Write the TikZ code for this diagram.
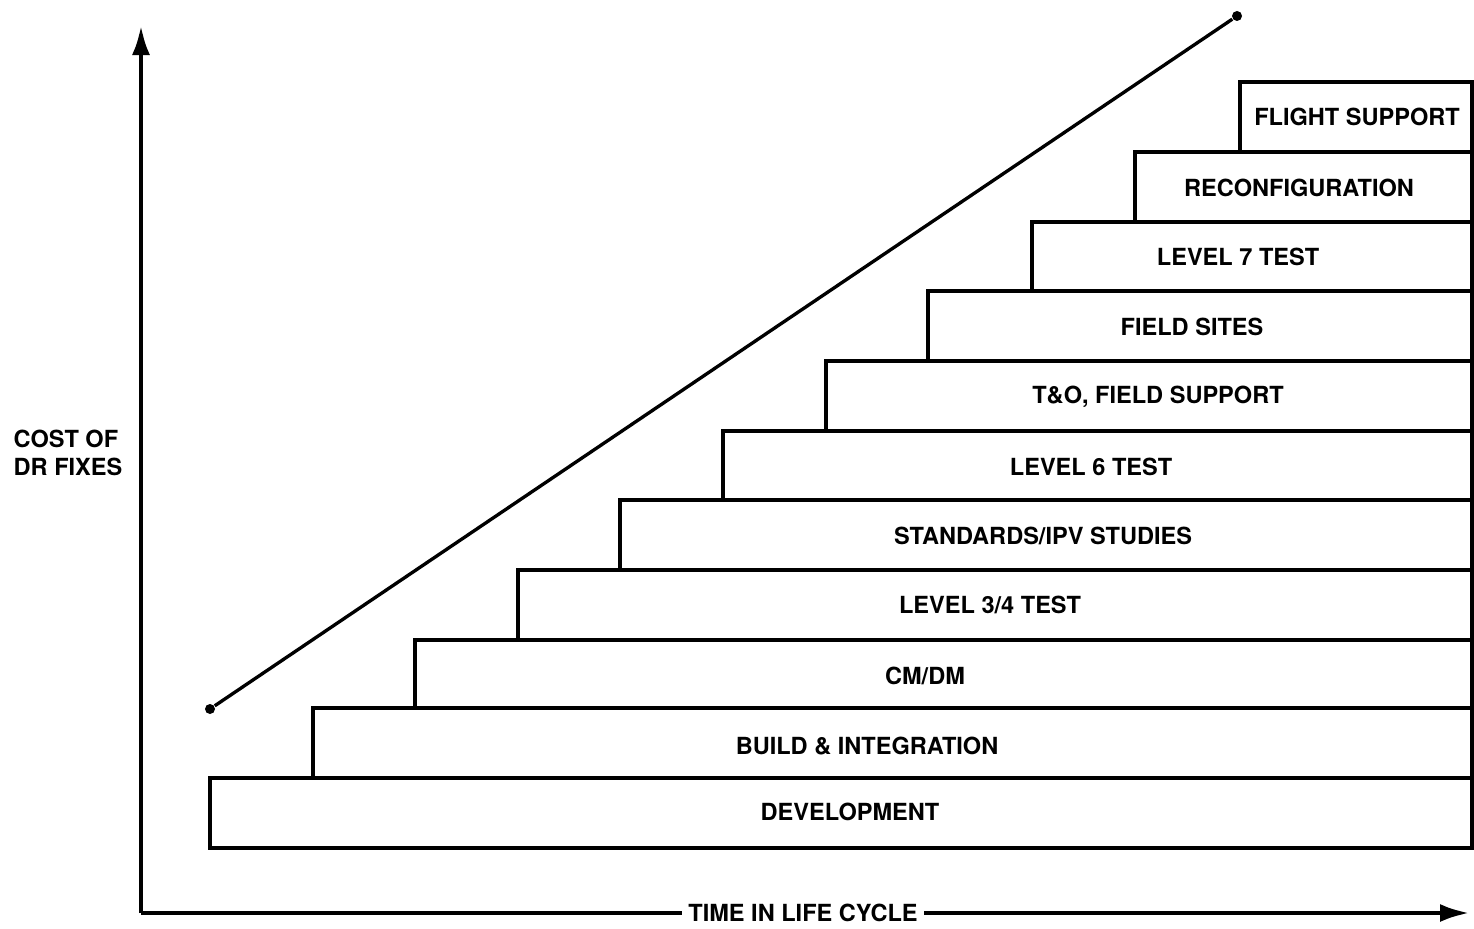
\documentclass[tikz,border=0pt]{standalone}
\usepackage{fontspec}
\setmainfont{TeX Gyre Heros}
\usepackage{tikz}
\usetikzlibrary{positioning, calc}
\usetikzlibrary{arrows.meta}

\begin{document}
\begin{tikzpicture}[x=0.01cm,y=-0.01cm,draw=black!100]
	\def \edge{1472}
	\tikzstyle{stair}=[draw=black!100,line width=1.1pt]
	\tikzstyle{phase}=[inner sep=0pt,font=\fontsize{6.7}{8}\selectfont\bfseries]
	\tikzstyle{axis}=[line width=1.4pt,-{Latex[length=0.3cm,width=0.18cm]}]
	\tikzstyle{dot}=[circle,fill=black,inner sep=0pt,minimum size=0.1cm]
	\useasboundingbox (0,0) rectangle (1474,928);

	% axes
	\coordinate (origin) at (141,913);
	\coordinate (ytip) at (141,25);
	\coordinate (xtip) at (1470,913);
	\draw[axis] (origin) -- (ytip);
	\draw[axis] (origin) -- (xtip);
	\node[phase,fill=white,inner xsep=0.06cm] (x-label) at (803,913) {TIME IN LIFE CYCLE};
	\node[phase,anchor=west,align=left] (y-label) at (13,453) {COST OF\\DR FIXES};

	% staircase of phases
	\draw[stair] (210,778) rectangle (\edge,848);
	\draw[stair] (313,708) rectangle (\edge,778);
	\draw[stair] (415,640) rectangle (\edge,708);
	\draw[stair] (518,570) rectangle (\edge,640);
	\draw[stair] (620,500) rectangle (\edge,570);
	\draw[stair] (723,431) rectangle (\edge,500);
	\draw[stair] (826,361) rectangle (\edge,431);
	\draw[stair] (928,291) rectangle (\edge,361);
	\draw[stair] (1032,222) rectangle (\edge,291);
	\draw[stair] (1135,152) rectangle (\edge,222);
	\draw[stair] (1240,82) rectangle (\edge,152);

	\node[phase] (dev)    at (850,812)  {DEVELOPMENT};
	\node[phase] (build)  at (867,746)  {BUILD \& INTEGRATION};
	\node[phase] (cmdm)   at (925,676)  {CM/DM};
	\node[phase] (lvl34)  at (990,605)  {LEVEL 3/4 TEST};
	\node[phase] (ipv)    at (1043,536) {STANDARDS/IPV STUDIES};
	\node[phase] (lvl6)   at (1091,467) {LEVEL 6 TEST};
	\node[phase] (tno)    at (1158,397) {T\&O, FIELD SUPPORT};
	\node[phase] (sites)  at (1192,327) {FIELD SITES};
	\node[phase] (lvl7)   at (1238,257) {LEVEL 7 TEST};
	\node[phase] (reconf) at (1299,188) {RECONFIGURATION};
	\node[phase] (flight) at (1357,117) {FLIGHT SUPPORT};

	% rising cost line
	\node[dot] (low)  at (210,709) {};
	\node[dot] (high) at (1237,16)  {};
	\draw[line width=0.95pt] (low) -- (high);
\end{tikzpicture}
\end{document}
